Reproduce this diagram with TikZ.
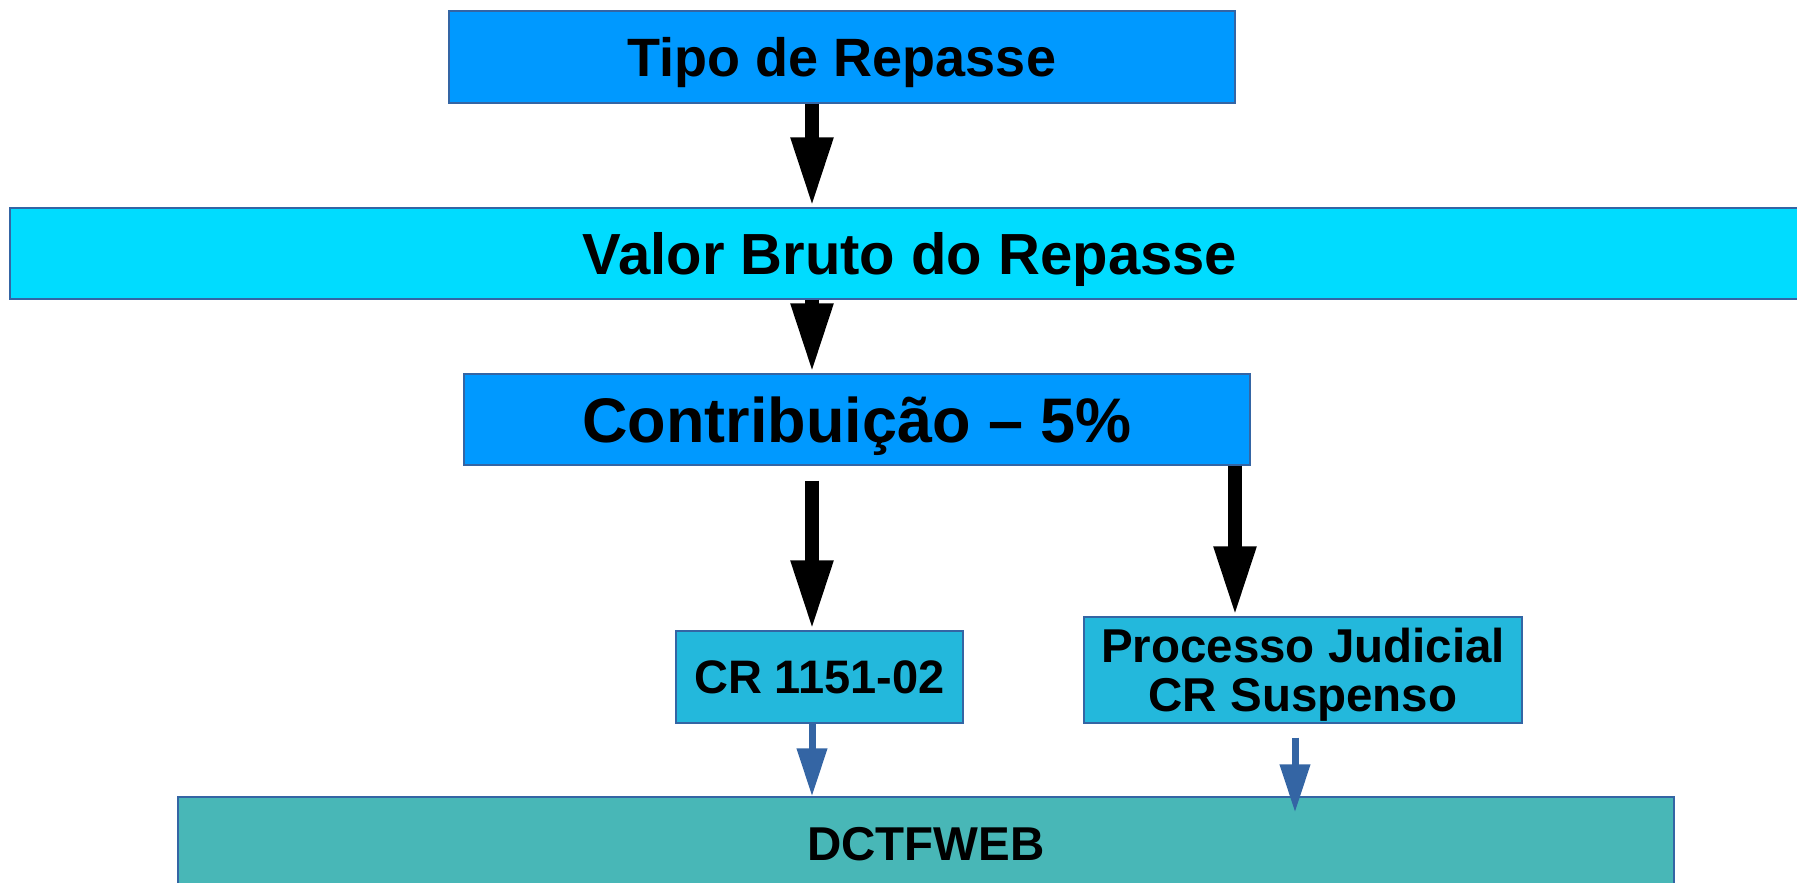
\documentclass[tikz,border=0pt]{standalone}
\usepackage{fontspec}
\setmainfont{Liberation Sans}
\usetikzlibrary{arrows.meta}
\definecolor{tipoblue}{RGB}{0,153,255}
\definecolor{valorcyan}{RGB}{0,220,255}
\definecolor{crblue}{RGB}{35,184,220}
\definecolor{dctfteal}{RGB}{72,183,183}
\definecolor{edgeblue}{RGB}{52,101,164}

\begin{document}
\begin{tikzpicture}[x=1pt,y=-1pt,
  box/.style={draw=edgeblue, line width=1.2pt, inner sep=0pt, text depth=0pt},
  bigarrow/.style={line width=14pt, -{Triangle[length=70pt,width=39pt]}},
  smallarrow/.style={draw=edgeblue, line width=7pt, -{Triangle[length=48pt,width=29pt]}}]
\useasboundingbox (0,0) rectangle (1797,883);
\clip (0,0) rectangle (1797,883);

% boxes
\node[box, fill=tipoblue, minimum width=786pt, minimum height=92pt,
  font=\bfseries\fontsize{54}{60}\selectfont, text height=39pt] (tipo) at (842,57) {Tipo de Repasse};
\node[box, fill=valorcyan, minimum width=1800pt, minimum height=91pt,
  font=\bfseries\fontsize{58}{64}\selectfont, text height=41.5pt] (valor) at (910,253.5) {Valor Bruto do Repasse};
\node[box, fill=tipoblue, minimum width=786pt, minimum height=91pt,
  font=\bfseries\fontsize{63}{70}\selectfont, text height=45pt] (contrib) at (857,419.5) {Contribuição -- 5\%};
\node[box, fill=crblue, minimum width=287pt, minimum height=92pt,
  font=\bfseries\fontsize{47}{52}\selectfont, text height=33.7pt] (cr) at (819.5,677) {CR 1151-02};
\node[box, fill=crblue, minimum width=438pt, minimum height=106pt, align=center,
  font=\bfseries\fontsize{47.5}{49}\selectfont] (proc) at (1303,670) {Processo Judicial\\CR Suspenso};
\node[box, fill=dctfteal, minimum width=1496pt, minimum height=92pt,
  font=\bfseries\fontsize{47.5}{52}\selectfont, text height=34pt] (dctf) at (926,843) {DCTFWEB};

% arrows
\coordinate (colA) at (812,0);
\coordinate (colB) at (1235,0);
\coordinate (colC) at (1295,0);
\draw[bigarrow] (tipo.south -| colA) -- (valor.north -| colA);
\draw[bigarrow] (valor.south -| colA) -- (contrib.north -| colA);
\draw[bigarrow] ([yshift=-15pt]contrib.south -| colA) -- (cr.north -| colA);
\draw[bigarrow] (contrib.south -| colB) -- (proc.north -| colB);
\draw[smallarrow] (cr.south -| colA) -- (dctf.north -| colA);
\draw[smallarrow] ([yshift=-14pt]proc.south -| colC) -- ([yshift=-16pt]dctf.north -| colC);
\end{tikzpicture}
\end{document}
